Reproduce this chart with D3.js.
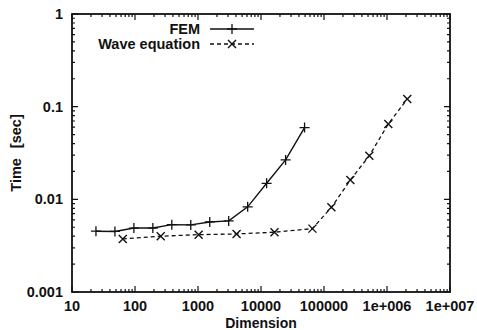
<!DOCTYPE html>
<html>
<head>
<meta charset="utf-8">
<script src="https://cdn.jsdelivr.net/npm/d3@7"></script>
<style>
  body { margin: 0; background: #fff; }
  text { font-family: "Liberation Sans", Arial, sans-serif; font-weight: bold; fill: #111; }
</style>
</head>
<body>
<div class="chart"></div>
<script>
// data
var femDim = [24, 48, 96, 192, 384, 768, 1536, 3072, 6144, 12288, 24576, 49152];
var femTime = [0.00453, 0.0045, 0.0049, 0.0049, 0.00533, 0.0053, 0.0057, 0.00585, 0.0083, 0.0149, 0.0266, 0.0595];
var waveDim = [64, 256, 1024, 4096, 16384, 65536, 131072, 262144, 524288, 1048576, 2097152];
var waveTime = [0.00374, 0.0040, 0.00416, 0.00423, 0.00442, 0.00483, 0.0082, 0.0162, 0.0296, 0.065, 0.121];
var xTicks = [10, 100, 1000, 10000, 100000, 1000000, 10000000];
var xTickLabels = ["10", "100", "1000", "10000", "100000", "1e+006", "1e+007"];
var yTicks = [0.001, 0.01, 0.1, 1];
var yTickLabels = ["0.001", "0.01", "0.1", "1"];

var width = 477, height = 330;
var margin = { left: 72, right: 27, top: 14, bottom: 38 };

var svg = d3.select(".chart")
  .append("svg")
  .attr("width", width)
  .attr("height", height);

var x = d3.scaleLog().domain([10, 1e7]).range([margin.left, width - margin.right]);
var y = d3.scaleLog().domain([0.001, 1]).range([height - margin.bottom, margin.top]);

var x0 = x.range()[0], x1 = x.range()[1];
var y0 = y.range()[0], y1 = y.range()[1];

// minor tick values (2..9 in each decade)
var xMinor = [], yMinor = [];
for (var d = 10; d < 1e7; d *= 10) for (var k = 2; k < 10; k++) xMinor.push(d * k);
for (var d2 = 0.001; d2 < 0.999; d2 *= 10) for (var k2 = 2; k2 < 10; k2++) yMinor.push(d2 * k2);

var ticks = svg.append("g").attr("stroke", "#111").attr("stroke-width", 1.2);

// x ticks, bottom and top, pointing inward
ticks.selectAll(".xmaj").data(xTicks).enter().append("path")
  .attr("d", function (v) { var p = x(v); return "M" + p + "," + y0 + "v-6M" + p + "," + y1 + "v6"; });
ticks.selectAll(".xmin").data(xMinor).enter().append("path")
  .attr("d", function (v) { var p = x(v); return "M" + p + "," + y0 + "v-3M" + p + "," + y1 + "v3"; });

// y ticks, left and right
ticks.selectAll(".ymaj").data(yTicks).enter().append("path")
  .attr("d", function (v) { var p = y(v); return "M" + x0 + "," + p + "h6M" + x1 + "," + p + "h-6"; });
ticks.selectAll(".ymin").data(yMinor).enter().append("path")
  .attr("d", function (v) { var p = y(v); return "M" + x0 + "," + p + "h3M" + x1 + "," + p + "h-3"; });

// frame
svg.append("rect")
  .attr("x", x0).attr("y", y1)
  .attr("width", x1 - x0).attr("height", y0 - y1)
  .attr("fill", "none").attr("stroke", "#111").attr("stroke-width", 1.8);

// tick labels
svg.selectAll(".xl").data(xTicks).enter().append("text")
  .attr("x", function (v) { return x(v); })
  .attr("y", y0 + 19)
  .attr("text-anchor", "middle")
  .style("font-size", "14.5px")
  .text(function (v, i) { return xTickLabels[i]; });

svg.selectAll(".yl").data(yTicks).enter().append("text")
  .attr("x", x0 - 9)
  .attr("y", function (v) { return y(v) + 5; })
  .attr("text-anchor", "end")
  .style("font-size", "14.5px")
  .text(function (v, i) { return yTickLabels[i]; });

// axis titles
svg.append("text")
  .attr("x", (x0 + x1) / 2)
  .attr("y", height - 2)
  .attr("text-anchor", "middle")
  .style("font-size", "14px")
  .text("Dimension");

var yt = svg.append("text")
  .attr("transform", "translate(21," + ((y0 + y1) / 2) + ") rotate(-90)")
  .attr("text-anchor", "middle")
  .style("font-size", "14.5px");
yt.append("tspan").text("Time");
yt.append("tspan").attr("dx", 10).text("[sec]");

var line = d3.line()
  .x(function (d) { return x(d[0]); })
  .y(function (d) { return y(d[1]); });

var fem = femDim.map(function (v, i) { return [v, femTime[i]]; });
var wave = waveDim.map(function (v, i) { return [v, waveTime[i]]; });

svg.append("path").datum(fem)
  .attr("d", line).attr("fill", "none")
  .attr("stroke", "#111").attr("stroke-width", 1.4);

svg.append("path").datum(wave)
  .attr("d", line).attr("fill", "none")
  .attr("stroke", "#111").attr("stroke-width", 1.3)
  .attr("stroke-dasharray", "4,3");

function plus(g, px, py) {
  g.append("path").attr("d", "M" + (px - 5) + "," + py + "h10M" + px + "," + (py - 5) + "v10")
    .attr("stroke", "#111").attr("stroke-width", 1.3);
}
function cross(g, px, py) {
  g.append("path").attr("d", "M" + (px - 4) + "," + (py - 4) + "l8,8M" + (px - 4) + "," + (py + 4) + "l8,-8")
    .attr("stroke", "#111").attr("stroke-width", 1.4);
}

var marks = svg.append("g");
fem.forEach(function (d) { plus(marks, x(d[0]), y(d[1])); });
wave.forEach(function (d) { cross(marks, x(d[0]), y(d[1])); });

// legend
var leg = svg.append("g");
leg.append("text").attr("x", 200).attr("y", 34).attr("text-anchor", "end")
  .style("font-size", "14.5px").text("FEM");
leg.append("text").attr("x", 200).attr("y", 49).attr("text-anchor", "end")
  .style("font-size", "14.5px").text("Wave equation");
leg.append("line").attr("x1", 210).attr("x2", 254).attr("y1", 29).attr("y2", 29)
  .attr("stroke", "#111").attr("stroke-width", 1.4);
plus(leg, 232, 29);
leg.append("line").attr("x1", 210).attr("x2", 254).attr("y1", 44).attr("y2", 44)
  .attr("stroke", "#111").attr("stroke-width", 1.3).attr("stroke-dasharray", "4,3");
cross(leg, 232, 44);
</script>
</body>
</html>
